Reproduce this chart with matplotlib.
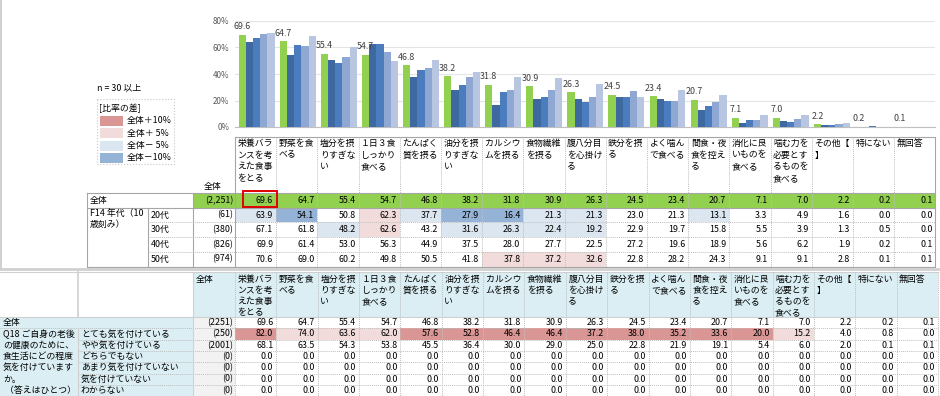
import numpy as np
import matplotlib
matplotlib.use('Agg')
import matplotlib.pyplot as plt
from matplotlib.patches import Rectangle

plt.rcParams['font.family'] = ['Noto Sans CJK JP', 'DejaVu Sans']

# choices (columns)
items = ['栄養バランスを考えた食事をとる', '野菜を食べる', '塩分を摂りすぎない', '１日３食しっかり食べる',
         'たんぱく質を摂る', '油分を摂りすぎない', 'カルシウムを摂る', '食物繊維を摂る',
         '腹八分目を心掛ける', '鉄分を摂る', 'よく噛んで食べる', '間食・夜食を控える',
         '消化に良いものを食べる', '噛む力を必要とするものを食べる', 'その他【】', '特にない', '無回答']

total = [69.6, 64.7, 55.4, 54.7, 46.8, 38.2, 31.8, 30.9, 26.3, 24.5, 23.4, 20.7, 7.1, 7.0, 2.2, 0.2, 0.1]

# F14 age groups
age_labels = ['20代', '30代', '40代', '50代']
age_n = [61, 380, 826, 974]
age20 = [63.9, 54.1, 50.8, 62.3, 37.7, 27.9, 16.4, 21.3, 21.3, 23.0, 21.3, 13.1, 3.3, 4.9, 1.6, 0.0, 0.0]
age30 = [67.1, 61.8, 48.2, 62.6, 43.2, 31.6, 26.3, 22.4, 19.2, 22.9, 19.7, 15.8, 5.5, 3.9, 1.3, 0.5, 0.0]
age40 = [69.9, 61.4, 53.0, 56.3, 44.9, 37.5, 28.0, 27.7, 22.5, 27.2, 19.6, 18.9, 5.6, 6.2, 1.9, 0.2, 0.1]
age50 = [70.6, 69.0, 60.2, 49.8, 50.5, 41.8, 37.8, 37.2, 32.6, 22.8, 28.2, 24.3, 9.1, 9.1, 2.8, 0.1, 0.1]

# Q18 cross table
q18_title = ['Q18 ご自身の老後', 'の健康のために、', '食生活にどの程度', '気を付けています', 'か。', ' （答えはひとつ）']
q18_labels = ['とても気を付けている', 'やや気を付けている', 'どちらでもない',
              'あまり気を付けていない', '気を付けていない', 'わからない']
q18_n = [250, 2001, 0, 0, 0, 0]
q18_very = [82.0, 74.0, 63.6, 62.0, 57.6, 52.8, 46.4, 46.4, 37.2, 38.0, 35.2, 33.6, 20.0, 15.2, 4.0, 0.8, 0.0]
q18_some = [68.1, 63.5, 54.3, 53.8, 45.5, 36.4, 30.0, 29.0, 25.0, 22.8, 21.9, 19.1, 5.4, 6.0, 2.0, 0.1, 0.1]
q18_zero = [0.0, 0.0, 0.0, 0.0, 0.0, 0.0, 0.0, 0.0, 0.0, 0.0, 0.0, 0.0, 0.0, 0.0, 0.0, 0.0, 0.0]

legend_labels = ['全体＋10%', '全体＋ 5%', '全体－ 5%', '全体－10%']

GREEN = '#92D050'
RED, PINK, LBLUE, BLUE = '#DA9694', '#F2DCDB', '#DCE6F1', '#95B3D7'
HEAD = '#DAEEF3'
GRAY = '#F2F2F2'
LINE = '#A6A6A6'
bar_colors = [GREEN, '#3E68A0', '#4A7CBE', '#8EA7D3', '#B9C6E2']
fs = 6.4


def diff_color(v, base, n):
    if n < 30:
        return None
    d = round(v - base, 1)
    if d >= 10:
        return RED
    if d >= 5:
        return PINK
    if d <= -10:
        return BLUE
    if d <= -5:
        return LBLUE
    return None


def wrap(s, k=4):
    return [s[i:i + k] for i in range(0, len(s), k)]


W, H = 940, 396
fig = plt.figure(figsize=(W / 100, H / 100), dpi=100)
ax = fig.add_axes([0, 0, 1, 1])
ax.set_xlim(0, W)
ax.set_ylim(H, 0)
ax.axis('off')

ncol = len(items)

# ---------------- bar chart ----------------
c0, cw = 235.0, 41.2
bx = fig.add_axes([c0 / W, (H - 127) / H, ncol * cw / W, 106 / H])
bw = 7.2 / cw
off = 1.7 / cw
x = np.arange(ncol)
series = [total, age20, age30, age40, age50]
for k, vals in enumerate(series):
    bx.bar(x + off + k * bw, vals, width=bw, align='edge', color=bar_colors[k], zorder=3)
for i, v in enumerate(total):
    bx.annotate(f'{v:.1f}', (i + off + bw / 2, v), xytext=(0, 2.5), textcoords='offset points',
                ha='center', va='bottom', fontsize=fs, color='#404040')
bx.set_xlim(-0.05, ncol)
bx.set_ylim(0, 80)
bx.set_yticks([0, 20, 40, 60, 80])
bx.set_yticklabels([f'{t}%' for t in [0, 20, 40, 60, 80]], fontsize=5.8, color='#595959')
bx.tick_params(axis='y', length=0, pad=4)
bx.set_xticks([])
bx.grid(axis='y', color='#E4E4E4', lw=0.8, zorder=0)
for s in ['left', 'right', 'top']:
    bx.spines[s].set_visible(False)
bx.spines['bottom'].set_color('#C0C0C0')
bx.patch.set_alpha(0)

# ---------------- legend ----------------
ax.text(97, 88, 'n = 30 以上', fontsize=fs, va='center', ha='left')
ax.add_patch(Rectangle((96.7, 99.3), 77, 65, fill=False, ec='#C8C8C8', lw=0.8, ls=':'))
ax.text(99, 108.5, '[比率の差]', fontsize=fs, va='center', ha='left')
for k, (lab, col) in enumerate(zip(legend_labels, [RED, PINK, LBLUE, BLUE])):
    yc = 121 + k * 12.3
    ax.add_patch(Rectangle((100, yc - 5), 23, 10, color=col, lw=0))
    ax.text(127, yc, lab, fontsize=fs, va='center', ha='left')

# ---------------- top table ----------------
hy0, ty0, rh = 137.0, 193.0, 14.7
rows_top = [ty0 + r * rh for r in range(6)]
right = c0 + ncol * cw

# header
for i, it in enumerate(items):
    for j, ln in enumerate(wrap(it)):
        ax.text(c0 + i * cw + 2.5, hy0 + 6.5 + j * 11.7, ln, fontsize=fs, va='center', ha='left')
ax.text(213, 186, '全体', fontsize=fs, va='center', ha='center')

# 全体 row
ax.add_patch(Rectangle((193, rows_top[0]), right - 193, rh, color=GREEN, lw=0))
ax.text(90, rows_top[0] + rh / 2, '全体', fontsize=fs, va='center')
ax.text(233, rows_top[0] + rh / 2, '(2,251)', fontsize=fs, va='center', ha='right')
for i, v in enumerate(total):
    ax.text(c0 + (i + 1) * cw - 3, rows_top[0] + rh / 2, f'{v:.1f}', fontsize=fs, va='center', ha='right')

# age rows
ax.text(90, 213.3, 'F14 年代（10', fontsize=fs, va='center')
ax.text(90, 224.3, '歳刻み）', fontsize=fs, va='center')
for r, (lab, n, vals) in enumerate(zip(age_labels, age_n, [age20, age30, age40, age50])):
    y = rows_top[r + 1]
    ax.text(151, y + rh / 2, lab, fontsize=fs, va='center')
    ax.text(233, y + rh / 2, f'({n})', fontsize=fs, va='center', ha='right')
    for i, v in enumerate(vals):
        col = diff_color(v, total[i], n)
        if col:
            ax.add_patch(Rectangle((c0 + i * cw, y), cw, rh, color=col, lw=0))
        ax.text(c0 + (i + 1) * cw - 3, y + rh / 2, f'{v:.1f}', fontsize=fs, va='center', ha='right')

# top table lines
ybot = rows_top[-1]
ax.plot([c0, right], [hy0, hy0], color=LINE, lw=0.8)
for i in range(1, ncol):
    ax.plot([c0 + i * cw] * 2, [hy0, ybot], color='#BFBFBF', lw=0.7, ls=(0, (1, 1)))
ax.plot([c0, c0], [hy0, ybot], color=LINE, lw=0.8)
ax.plot([right, right], [hy0, ybot], color=LINE, lw=0.8)
ax.plot([87, 87], [ty0, ybot], color=LINE, lw=0.8)
ax.plot([193, 193], [ty0, ybot], color=LINE, lw=0.8)
ax.plot([148, 148], [rows_top[1], ybot], color=LINE, lw=0.8)
ax.plot([87, right], [ty0, ty0], color=LINE, lw=0.8)
ax.plot([87, right], [rows_top[1], rows_top[1]], color=LINE, lw=0.8)
for r in range(2, 5):
    ax.plot([148, right], [rows_top[r]] * 2, color='#BFBFBF', lw=0.7, ls=(0, (1, 1)))
ax.plot([87, right], [ybot, ybot], color=LINE, lw=0.8)
ax.add_patch(Rectangle((242.5, 191), 34.5, 16.3, fill=False, ec='#E00000', lw=1.4, zorder=5))

# separator and frame
ax.plot([0, W], [268.8, 268.8], color='#D0D0D0', lw=2)
ax.plot([0.8, 0.8], [0, 268], color='#C8C8C8', lw=1.2)

# ---------------- bottom table ----------------
bc0, bcw = 235.0, 41.35
bh0, by0, brh = 272.0, 317.0, 11.3
bright = bc0 + ncol * bcw
rows_b = [by0 + r * brh for r in range(8)]

ax.add_patch(Rectangle((193, bh0), bright - 193, by0 - bh0, color=HEAD, lw=0))
ax.text(196, bh0 + 7.5, '全体', fontsize=fs, va='center', ha='left')
for i, it in enumerate(items):
    for j, ln in enumerate(wrap(it)):
        ax.text(bc0 + i * bcw + 2.5, bh0 + 7.5 + j * 11.1, ln, fontsize=fs, va='center', ha='left')

# label / n column backgrounds
ax.add_patch(Rectangle((0, by0), 193, rows_b[-1] - by0, color=HEAD, lw=0))
ax.add_patch(Rectangle((193, by0), 42, rows_b[-1] - by0, color=GRAY, lw=0))

ax.text(3, by0 + brh / 2, '全体', fontsize=fs, va='center')
ax.text(233, by0 + brh / 2, '(2251)', fontsize=fs, va='center', ha='right')
for i, v in enumerate(total):
    ax.text(bc0 + (i + 1) * bcw - 3, by0 + brh / 2, f'{v:.1f}', fontsize=fs, va='center', ha='right')

q18_rows = [q18_very, q18_some, q18_zero, q18_zero, q18_zero, q18_zero]
for r, (lab, n, vals) in enumerate(zip(q18_labels, q18_n, q18_rows)):
    y = rows_b[r + 1]
    ax.text(3, y + brh / 2, q18_title[r], fontsize=fs, va='center')
    ax.text(81, y + brh / 2, lab, fontsize=fs, va='center')
    ax.text(233, y + brh / 2, f'({n})', fontsize=fs, va='center', ha='right')
    for i, v in enumerate(vals):
        col = diff_color(v, total[i], n)
        if col:
            ax.add_patch(Rectangle((bc0 + i * bcw, y), bcw, brh, color=col, lw=0))
        ax.text(bc0 + (i + 1) * bcw - 3, y + brh / 2, f'{v:.1f}', fontsize=fs, va='center', ha='right')

# bottom table lines
ax.plot([0, bright], [bh0, bh0], color='#D0D0D0', lw=0.8)
ax.plot([0, bright], [by0, by0], color='#D0D0D0', lw=0.8)
for r in range(1, 7):
    ax.plot([78 if r > 1 else 0, bright], [rows_b[r]] * 2, color='#BFBFBF', lw=0.7, ls=(0, (1, 1)))
ax.plot([78, 78], [bh0, by0], color='#D0D0D0', lw=1.2)
ax.plot([78, 78], [rows_b[1], rows_b[-1]], color='#D0D0D0', lw=0.8)
ax.plot([193, 193], [bh0, rows_b[-1]], color='#D0D0D0', lw=0.8)
for i in range(ncol + 1):
    ax.plot([bc0 + i * bcw] * 2, [bh0, rows_b[-1]], color='#BFBFBF', lw=0.7, ls=(0, (1, 1)))

fig.savefig('out.png', dpi=100)
